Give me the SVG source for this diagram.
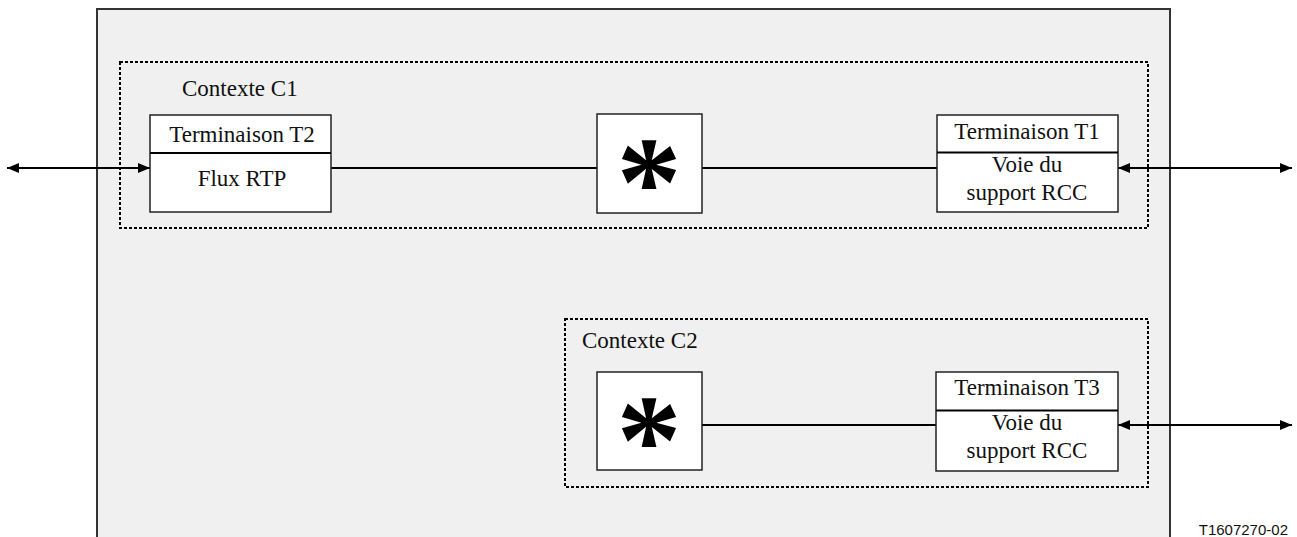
<svg xmlns="http://www.w3.org/2000/svg" width="1297" height="537" viewBox="0 0 1297 537">
<defs>
<style>
.lbl{font-family:'Liberation Serif','Times New Roman',Times,serif;font-size:23px;fill:#111}
.mid{text-anchor:middle}
.star{font-family:'Liberation Serif','Times New Roman',Times,serif;font-weight:bold;font-size:130px;fill:#000;text-anchor:middle}
.box{fill:#fff;stroke:#222;stroke-width:1.5}
.ctx{fill:none;stroke:#000;stroke-width:2;stroke-dasharray:3 2}
.conn{stroke:#000;stroke-width:2;fill:none}
</style>
<marker id="ah" viewBox="0 0 12 10" refX="12" refY="5" markerWidth="12" markerHeight="10" markerUnits="userSpaceOnUse" orient="auto-start-reverse">
<path d="M0,0 L12,5 L0,10 Z" fill="#000"/>
</marker>
</defs>
<rect width="1297" height="537" fill="#fff"/>
<rect id="outer" x="97" y="9" width="1073" height="540" fill="#f0f0f0" stroke="#333" stroke-width="2"/>
<g id="contextC1">
<rect class="ctx" x="120" y="62" width="1028" height="166"/>
<text class="lbl" x="182" y="96">Contexte C1</text>
</g>
<g id="contextC2">
<rect class="ctx" x="565" y="319" width="583" height="168"/>
<text class="lbl" x="582" y="348">Contexte C2</text>
</g>
<g id="connectors">
<line class="conn" x1="7" y1="168" x2="150" y2="168" marker-start="url(#ah)" marker-end="url(#ah)"/>
<line class="conn" x1="331" y1="168" x2="597" y2="168"/>
<line class="conn" x1="702" y1="168" x2="937" y2="168"/>
<line class="conn" x1="1118" y1="168" x2="1292" y2="168" marker-start="url(#ah)" marker-end="url(#ah)"/>
<line class="conn" x1="702" y1="425" x2="936" y2="425"/>
<line class="conn" x1="1118" y1="425" x2="1292" y2="425" marker-start="url(#ah)" marker-end="url(#ah)"/>
</g>
<g id="T2">
<rect class="box" x="150" y="115" width="181" height="97"/>
<line x1="150" y1="153" x2="331" y2="153" stroke="#000" stroke-width="2"/>
<text class="lbl mid" x="242" y="141.5">Terminaison T2</text>
<text class="lbl mid" x="242" y="186">Flux RTP</text>
</g>
<g id="star1">
<rect class="box" x="597" y="114" width="105" height="99"/>
<text class="star" x="649" y="226">*</text>
</g>
<g id="T1">
<rect class="box" x="937" y="115" width="181" height="97"/>
<line x1="937" y1="152.5" x2="1118" y2="152.5" stroke="#000" stroke-width="2"/>
<text class="lbl mid" x="1027" y="138.5">Terminaison T1</text>
<text class="lbl mid" x="1027" y="172">Voie du</text>
<text class="lbl mid" x="1027" y="200">support RCC</text>
</g>
<g id="star2">
<rect class="box" x="597" y="372" width="105" height="98"/>
<text class="star" x="649" y="484">*</text>
</g>
<g id="T3">
<rect class="box" x="936" y="372" width="182" height="99"/>
<line x1="936" y1="410.5" x2="1118" y2="410.5" stroke="#000" stroke-width="2"/>
<text class="lbl mid" x="1027" y="395">Terminaison T3</text>
<text class="lbl mid" x="1027" y="430">Voie du</text>
<text class="lbl mid" x="1027" y="458">support RCC</text>
</g>
<text x="1288" y="535" font-family="Liberation Sans, Arial, sans-serif" font-size="15" text-anchor="end" fill="#111">T1607270-02</text>
</svg>
